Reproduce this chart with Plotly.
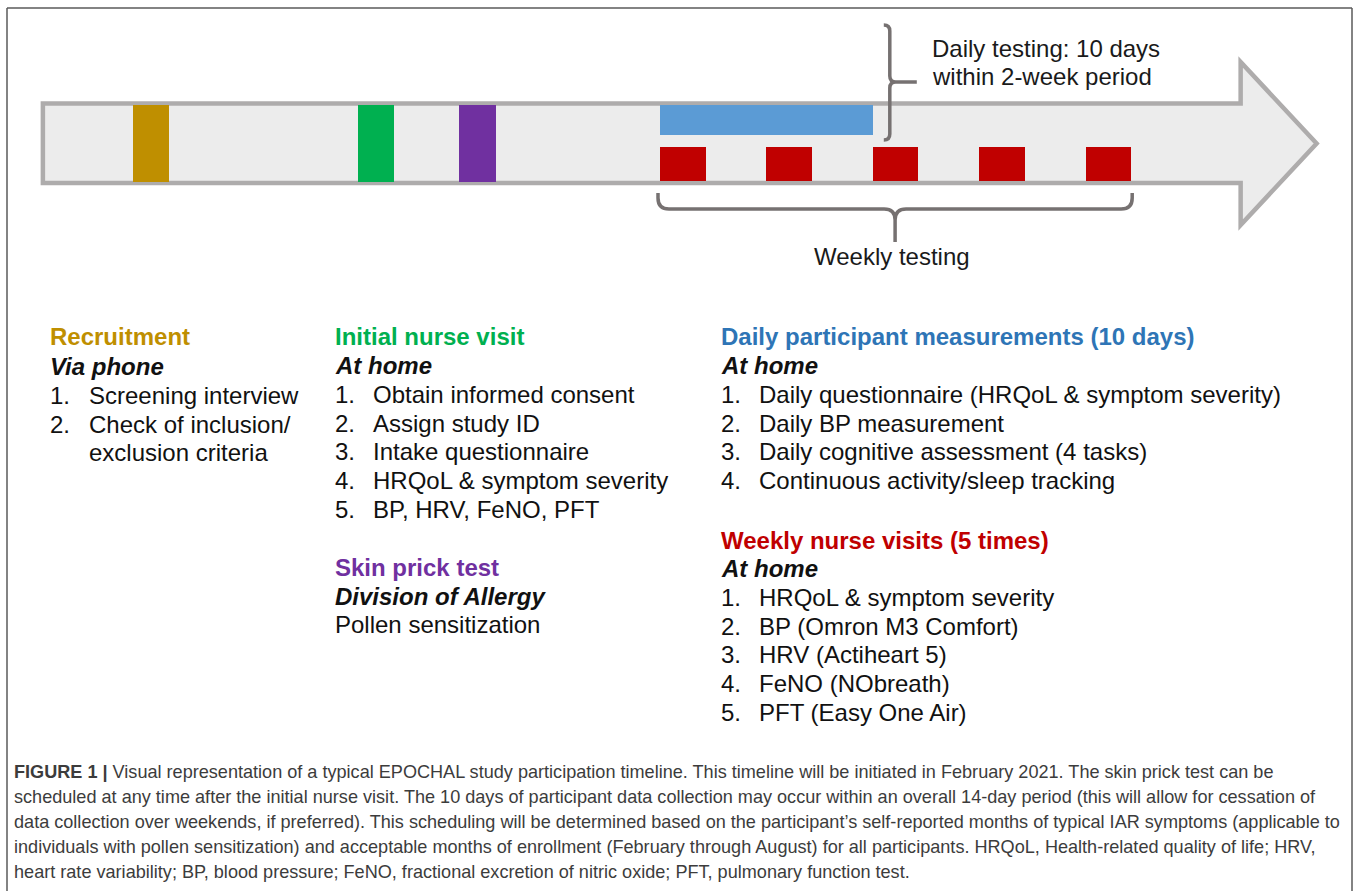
import plotly.graph_objects as go

W, H = 1358, 891
FONT = "Liberation Sans, Arial, Helvetica, sans-serif"

# ---------------- timeline data (days relative to first daily measurement) ----------------
phase_names = ["Recruitment", "Initial nurse visit", "Skin prick test"]
phase_day = [-34.7, -19.9, -13.2]
phase_len = [2.4, 2.4, 2.4]
daily_start = 0
daily_len = 14
weekly_days = [0, 7, 14, 21, 28]
weekly_len = 3
timeline_start, timeline_head, timeline_end = -40.6, 38.2, 43.2

# ---------------- text content ----------------
recruit_title, recruit_sub = "Recruitment", "Via phone"
recruit_items = ["Screening interview", "Check of inclusion/", "exclusion criteria"]
nurse_title, nurse_sub = "Initial nurse visit", "At home"
nurse_items = ["Obtain informed consent", "Assign study ID", "Intake questionnaire",
               "HRQoL &amp; symptom severity", "BP, HRV, FeNO, PFT"]
skin_title, skin_sub, skin_item = "Skin prick test", "Division of Allergy", "Pollen sensitization"
daily_title, daily_sub = "Daily participant measurements (10 days)", "At home"
daily_items = ["Daily questionnaire (HRQoL &amp; symptom severity)", "Daily BP measurement",
               "Daily cognitive assessment (4 tasks)", "Continuous activity/sleep tracking"]
weekly_title, weekly_sub = "Weekly nurse visits (5 times)", "At home"
weekly_items = ["HRQoL &amp; symptom severity", "BP (Omron M3 Comfort)", "HRV (Actiheart 5)",
                "FeNO (NObreath)", "PFT (Easy One Air)"]
daily_label = ["Daily testing: 10 days", "within 2-week period"]
weekly_label = "Weekly testing"
caption_lines = [
    "<b>FIGURE 1 |</b> Visual representation of a typical EPOCHAL study participation timeline. This timeline will be initiated in February 2021. The skin prick test can be",
    "scheduled at any time after the initial nurse visit. The 10 days of participant data collection may occur within an overall 14-day period (this will allow for cessation of",
    "data collection over weekends, if preferred). This scheduling will be determined based on the participant\u2019s self-reported months of typical IAR symptoms (applicable to",
    "individuals with pollen sensitization) and acceptable months of enrollment (February through August) for all participants. HRQoL, Health-related quality of life; HRV,",
    "heart rate variability; BP, blood pressure; FeNO, fractional excretion of nitric oxide; PFT, pulmonary function test.",
]

# ---------------- styles ----------------
GOLD, GREEN, PURPLE = "#BF8F00", "#00B050", "#7030A0"
BLUE_BAR, BLUE_TXT, RED = "#5B9BD5", "#2E75B6", "#C00000"
phase_colors = [GOLD, GREEN, PURPLE]
ARROW_FILL, ARROW_LINE = "#ECECEC", "#AEACAC"
BRACE = "#767171"

# ---------------- scales ----------------
ORIGIN_PX, PX_PER_DAY = 660, 15.2
x_range = [(0 - ORIGIN_PX) / PX_PER_DAY, (W - ORIGIN_PX) / PX_PER_DAY]


def d(px):
    """pixel offset -> days"""
    return px / PX_PER_DAY


def P(x, y):
    return f"{x:.4f},{y:.2f}"


fig = go.Figure()

# phase blocks
fig.add_trace(go.Bar(y=[143.5] * len(phase_day), base=phase_day, x=phase_len, orientation="h",
                     width=77, marker=dict(color=phase_colors, line=dict(width=0)),
                     hoverinfo="skip", showlegend=False))
# daily period
fig.add_trace(go.Bar(y=[120], base=[daily_start], x=[daily_len], orientation="h", width=30,
                     marker=dict(color=BLUE_BAR, line=dict(width=0)), hoverinfo="skip", showlegend=False))
# weekly visits
fig.add_trace(go.Bar(y=[164] * len(weekly_days), base=weekly_days, x=[weekly_len] * len(weekly_days),
                     orientation="h", width=34, marker=dict(color=RED, line=dict(width=0)),
                     hoverinfo="skip", showlegend=False))

shapes = []
# timeline arrow
yt, yb, yht, yhb, ymid = 103.5, 183, 62, 225, 143.5
arrow = (f"M {P(timeline_start, yt)} L {P(timeline_head, yt)} L {P(timeline_head, yht)} "
         f"L {P(timeline_end, ymid)} L {P(timeline_head, yhb)} L {P(timeline_head, yb)} "
         f"L {P(timeline_start, yb)} Z")
shapes.append(dict(type="path", xref="x", yref="y", path=arrow, fillcolor=ARROW_FILL,
                   line=dict(color=ARROW_LINE, width=4.5), layer="below"))

# right brace for daily period
xl = daily_start + daily_len + d(17)
r = d(6)
br = (f"M {P(xl - r, 25)} Q {P(xl, 25)} {P(xl, 31)} L {P(xl, 76)} Q {P(xl, 82)} {P(xl + r, 82)} "
      f"L {P(xl + d(27), 82)} M {P(xl + r, 82)} Q {P(xl, 82)} {P(xl, 88)} L {P(xl, 134)} "
      f"Q {P(xl, 140)} {P(xl - r, 140)}")
shapes.append(dict(type="path", xref="x", yref="y", path=br, line=dict(color=BRACE, width=3.5)))

# bottom brace for weekly visits
xL = weekly_days[0] - d(2)
xR = weekly_days[-1] + weekly_len + d(1)
xM = (xL + xR) / 2
rr = d(11)
bb = (f"M {P(xL, 193)} L {P(xL, 198)} Q {P(xL, 209)} {P(xL + rr, 209)} L {P(xM - rr, 209)} "
      f"Q {P(xM, 209)} {P(xM, 220)} L {P(xM, 242)} M {P(xM, 220)} Q {P(xM, 209)} {P(xM + rr, 209)} "
      f"L {P(xR - rr, 209)} Q {P(xR, 209)} {P(xR, 198)} L {P(xR, 193)}")
shapes.append(dict(type="path", xref="x", yref="y", path=bb, line=dict(color=BRACE, width=3.5)))

# outer frame
FR = "#5a5a5a"
for x0, y0, x1, y1 in [(7, 8, 1352, 8), (7, 8, 7, 891), (1352, 8, 1352, 891)]:
    shapes.append(dict(type="line", xref="paper", yref="paper", x0=x0 / W, x1=x1 / W,
                       y0=1 - y0 / H, y1=1 - y1 / H, line=dict(color=FR, width=1.5)))

annotations = []


def txt(x, y, text, size=24, color="#111111", anchor="left"):
    annotations.append(dict(x=x / W, y=1 - y / H, xref="paper", yref="paper", text=text,
                            showarrow=False, xanchor=anchor, yanchor="middle",
                            font=dict(family=FONT, size=size, color=color)))


def block(xn, xt, y0, title, color, sub, items, step=28.7):
    txt(xn, y0, f"<b>{title}</b>", color=color)
    txt(xn, y0 + step, f"<b><i>{sub}</i></b>")
    y = y0 + 2 * step
    for i, it in enumerate(items):
        txt(xn, y, f"{i + 1}.")
        txt(xt, y, it)
        y += step


# column 1
txt(48, 337, f"<b>{recruit_title}</b>", color=GOLD)
txt(48, 366, f"<b><i>{recruit_sub}</i></b>")
txt(48, 395, "1."); txt(87, 395, recruit_items[0])
txt(48, 424, "2."); txt(87, 424, recruit_items[1])
txt(87, 452, recruit_items[2])

# column 2
block(333, 371, 337, nurse_title, GREEN, nurse_sub, nurse_items)
txt(333, 567, f"<b>{skin_title}</b>", color=PURPLE)
txt(333, 596, f"<b><i>{skin_sub}</i></b>")
txt(333, 624, skin_item)

# column 3
block(719, 757, 337, daily_title, BLUE_TXT, daily_sub, daily_items)
block(719, 757, 540, weekly_title, RED, weekly_sub, weekly_items)

# timeline labels
txt(930, 49, daily_label[0], color="#1a1a1a")
txt(930, 77, daily_label[1], color="#1a1a1a")
txt(892, 256, weekly_label, color="#1a1a1a", anchor="center")

# caption
for i, line in enumerate(caption_lines):
    txt(12, 772 + 25 * i, line, size=18.1, color="#3c3c3c")

fig.update_layout(
    width=W, height=H, margin=dict(l=0, r=0, t=0, b=0),
    paper_bgcolor="white", plot_bgcolor="white",
    barmode="overlay", bargap=0,
    xaxis=dict(range=x_range, visible=False, fixedrange=True, domain=[0, 1]),
    yaxis=dict(range=[H, 0], visible=False, fixedrange=True, domain=[0, 1]),
    shapes=shapes, annotations=annotations, showlegend=False,
)

fig.write_html("out.html", config={"displayModeBar": False},
               post_script="document.body.style.margin='0px';document.body.style.overflow='hidden';")
